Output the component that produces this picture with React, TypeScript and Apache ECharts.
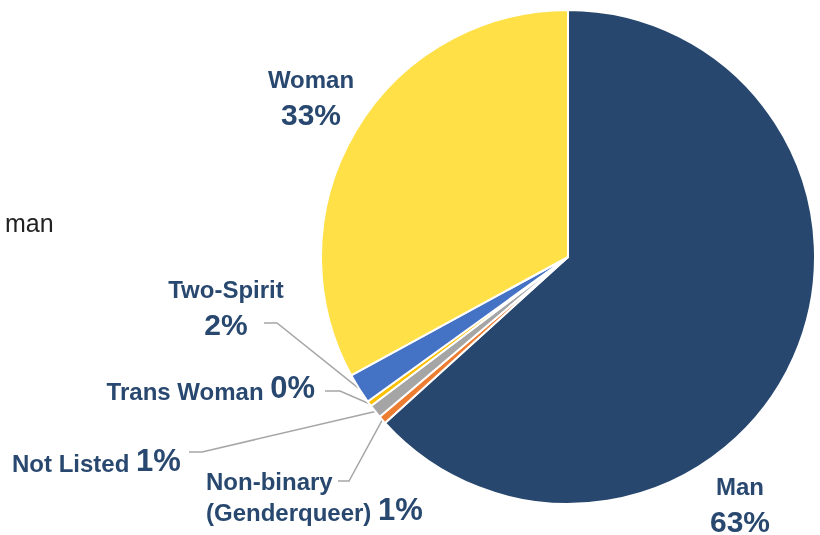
import React, { useEffect, useRef } from "react";
import * as echarts from "echarts";

const categories = ["Man", "Non-binary", "Not Listed", "Trans Woman", "Two-Spirit", "Woman"];
const values = [63.28, 0.52, 0.9, 0.35, 2.0, 32.95];
const sliceColors = ["#27476E", "#ED7D31", "#A5A5A5", "#FFC000", "#4472C4", "#FFE047"];
const strayLabel = "man";

const TEXT = "#29486F";
const FONT = "'Liberation Sans', Arial, Helvetica, sans-serif";

// label placement per slice
type Place = { x: number; y: number; align: "left" | "center" | "right"; kind: string; elbow?: number[][] };
const places: Place[] = [
  { x: 740, y: 464, align: "center", kind: "stack" },
  { x: 206, y: 474.5, align: "left", kind: "nonbinary", elbow: [[338, 481], [349, 481]] },
  { x: 12, y: 439.5, align: "left", kind: "inline", elbow: [[189, 452], [202, 452]] },
  { x: 315, y: 367, align: "right", kind: "inline", elbow: [[325, 391], [340, 391]] },
  { x: 226, y: 267, align: "center", kind: "stack", elbow: [[264, 323], [277, 323]] },
  { x: 311, y: 57.5, align: "center", kind: "stack" },
];

export default function App() {
  const ref = useRef<HTMLDivElement>(null);
  useEffect(() => {
    if (!ref.current) return;
    const chart = echarts.init(ref.current, undefined, { renderer: "svg" });
    const data = categories.map((name, i) => ({
      name,
      value: values[i],
      itemStyle: { color: sliceColors[i] },
      labelLine: { show: !!places[i].elbow },
    }));
    chart.setOption({
      animation: false,
      graphic: [
        {
          type: "text",
          left: 5,
          top: 210,
          style: { text: strayLabel, font: `normal 25px ${FONT}`, fill: "#222" },
        },
      ],
      series: [
        {
          type: "pie",
          center: [568, 257],
          radius: 247,
          startAngle: 90,
          clockwise: true,
          avoidLabelOverlap: false,
          itemStyle: { borderColor: "#fff", borderWidth: 2 },
          label: {
            show: true,
            position: "outside",
            formatter: (p: any) => {
              const pct = Math.round(p.percent) + "%";
              const kind = places[p.dataIndex].kind;
              if (kind === "stack") return `{n|${p.name}}\n{p|${pct}}`;
              if (kind === "inline") return `{ni|${p.name} }{pi|${pct}}`;
              return `{nb|Non-binary}\n{ni|(Genderqueer) }{pi|${pct}}`;
            },
            rich: {
              n: { fontFamily: FONT, fontWeight: "bold", fontSize: 24, lineHeight: 44, color: TEXT, align: "center" },
              p: { fontFamily: FONT, fontWeight: "bold", fontSize: 30, lineHeight: 26, color: TEXT, align: "center" },
              nb: { fontFamily: FONT, fontWeight: "bold", fontSize: 24, lineHeight: 14, color: TEXT },
              ni: { fontFamily: FONT, fontWeight: "bold", fontSize: 24, lineHeight: 32, color: TEXT, verticalAlign: "bottom" },
              pi: { fontFamily: FONT, fontWeight: "bold", fontSize: 31, lineHeight: 36, color: TEXT, verticalAlign: "bottom" },
            },
          },
          labelLine: { show: true, lineStyle: { color: "#A6A6A6", width: 1.5 } },
          labelLayout: (params: any) => {
            const pl = places[params.dataIndex];
            const res: any = { x: pl.x, y: pl.y, align: pl.align, verticalAlign: "top" };
            if (pl.elbow && params.labelLinePoints) {
              const start = params.labelLinePoints[0];
              res.labelLinePoints = [pl.elbow[0], pl.elbow[1], start];
            }
            return res;
          },
          data,
        },
      ],
    });
    return () => chart.dispose();
  }, []);
  return <div ref={ref} style={{ position: "fixed", left: 0, top: 0, width: 820, height: 535 }} />;
}
